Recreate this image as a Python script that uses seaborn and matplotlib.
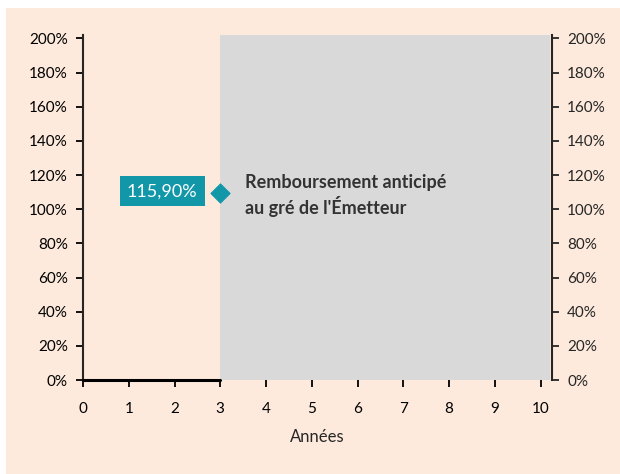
import matplotlib
matplotlib.use("Agg")
import matplotlib.pyplot as plt
import matplotlib.patches as mpatches
import seaborn as sns
import pandas as pd

# données
annees = [0, 1, 2, 3]
niveau = [0.0, 0.0, 0.0, 0.0]
x_rappel = [3]
y_rappel = [1.095]
label_rappel = "115,90%"
texte_zone = "Remboursement anticipé\nau gré de l'Émetteur"
zone_debut = 3
y_ticks = [0, 0.2, 0.4, 0.6, 0.8, 1.0, 1.2, 1.4, 1.6, 1.8, 2.0]
x_ticks = list(range(0, 11))

peche = "#FDEADC"
gris = "#D9D9D9"
teal = "#1197A8"
xmax = 10.25

sns.set_style("ticks")
plt.rcParams["font.family"] = ["Lato", "DejaVu Sans"]

fig = plt.figure(figsize=(6.2, 4.74), dpi=100)
fig.patch.set_facecolor("white")
fig.add_artist(mpatches.Rectangle((6 / 620, 0), 1, 1 - 8 / 474,
                                  transform=fig.transFigure,
                                  facecolor=peche, edgecolor="none", zorder=-10))

ax = fig.add_axes([83 / 620, 1 - 380 / 474, (552 - 83) / 620, (380 - 35) / 474])
ax.set_facecolor(peche)
ax.set_xlim(0, xmax)
ax.set_ylim(0, 2.02)

# zone grise
ax.axvspan(zone_debut, xmax - 0.05, ymin=0, ymax=1, color=gris, lw=0, zorder=1)

# ligne 0 à 3
df = pd.DataFrame({"annee": annees, "niveau": niveau})
sns.lineplot(data=df, x="annee", y="niveau", ax=ax, color="black", lw=2.2,
             zorder=3, clip_on=False)

# losange
sns.scatterplot(x=x_rappel, y=y_rappel, ax=ax, marker="D", s=95, color=teal,
                edgecolor=teal, zorder=4, clip_on=False)

ax.text(2.5, 1.105, label_rappel, ha="right", va="center",
        fontsize=13, color="white", zorder=5,
        bbox=dict(boxstyle="square,pad=0.4", facecolor=teal, edgecolor="none"))
ax.text(3.55, 1.08, texte_zone, ha="left", va="center",
        fontsize=13, fontweight="bold", color="#333333", zorder=5,
        linespacing=1.3)

ax.spines["bottom"].set_visible(False)
ax.spines["top"].set_visible(False)
ax.spines["left"].set_linewidth(1.5)
ax.spines["right"].set_visible(False)

ax.set_xticks(x_ticks)
ax.set_yticks(y_ticks)
ax.set_yticklabels([f"{int(round(v * 100))}%" for v in y_ticks])
ax.tick_params(axis="both", labelsize=11, width=1.3, length=5, colors="black")
ax.tick_params(axis="y", pad=6)
ax.tick_params(axis="x", pad=11)
ax.set_xlabel("Années", fontsize=12, labelpad=9)
ax.set_ylabel("")

ax2 = ax.twinx()
ax2.set_ylim(ax.get_ylim())
ax2.set_yticks(y_ticks)
ax2.set_yticklabels([f"{int(round(v * 100))}%" for v in y_ticks])
ax2.tick_params(axis="y", labelsize=11, width=1.3, length=5, pad=6)
for s in ["top", "bottom", "left"]:
    ax2.spines[s].set_visible(False)
ax2.spines["right"].set_visible(True)
ax2.spines["right"].set_linewidth(1.5)

fig.savefig("out.png", dpi=100, facecolor=fig.get_facecolor())
